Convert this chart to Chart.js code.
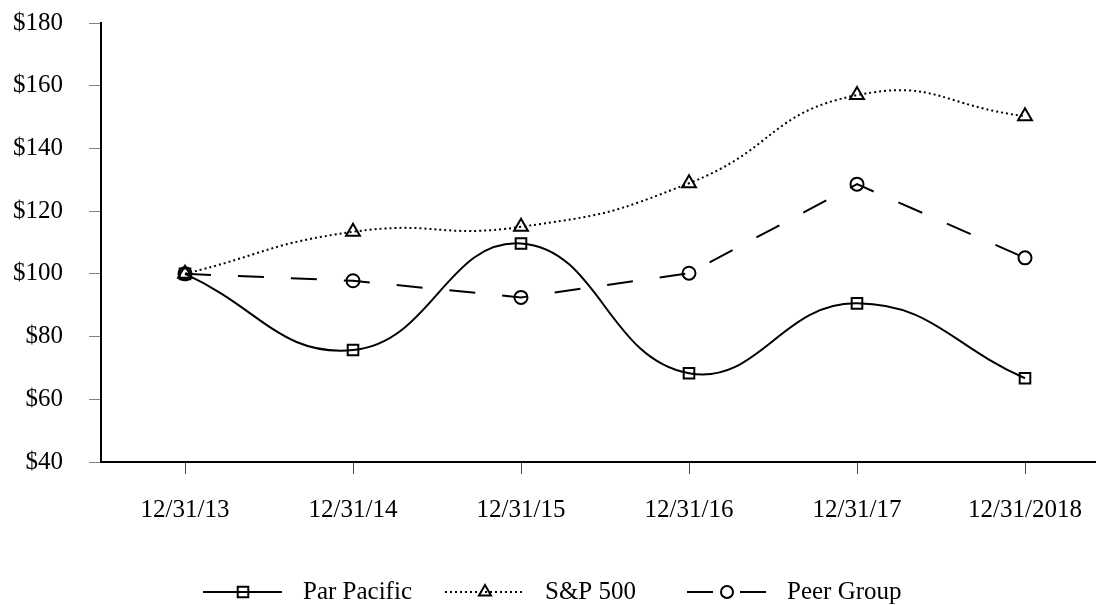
<!DOCTYPE html>
<html>
<head>
<meta charset="utf-8">
<script src="https://cdn.jsdelivr.net/npm/chart.js@4/dist/chart.umd.min.js"></script>
<style>
  html, body { margin: 0; padding: 0; background: #fff; overflow: hidden; }
  canvas { display: block; }
</style>
</head>
<body>
<canvas id="c" width="1119" height="605"></canvas>
<script>
// ---- data ----
const categories = ['12/31/13', '12/31/14', '12/31/15', '12/31/16', '12/31/17', '12/31/2018'];
const seriesNames = ['Par Pacific', 'S&P 500', 'Peer Group'];
const parPacific = [100, 75.7, 109.7, 68.3, 90.6, 66.7];
const sp500 = [100, 113.4, 115.0, 128.9, 157.0, 150.3];
const peerGroup = [100, 97.8, 92.5, 100.2, 128.6, 105.1];
const yMin = 40, yMax = 180, yStep = 20;
const yTickLabels = ['$40', '$60', '$80', '$100', '$120', '$140', '$160', '$180'];

const FONT = '"Liberation Serif", "Times New Roman", serif';

const legendPlugin = {
  id: 'excelLegend',
  afterDraw(chart) {
    const ctx = chart.ctx;
    const y = 592;
    const startX = 203, slot = 242, lineLen = 79;
    ctx.save();
    chart.data.datasets.forEach((ds, i) => {
      const x0 = startX + i * slot;
      ctx.strokeStyle = '#000';
      ctx.lineWidth = 2;
      ctx.lineCap = 'butt';
      ctx.setLineDash(ds.borderDash || []);
      ctx.beginPath();
      ctx.moveTo(x0, y);
      ctx.lineTo(x0 + lineLen, y);
      ctx.stroke();
      ctx.setLineDash([]);
      ctx.fillStyle = 'rgba(0,0,0,0)';
      const r = ds.legendRadius;
      if (Chart.helpers && Chart.helpers.drawPoint) {
        Chart.helpers.drawPoint(ctx, {pointStyle: ds.pointStyle, radius: r, borderWidth: 2, rotation: 0}, x0 + 40, y);
      }
      ctx.fillStyle = '#000';
      ctx.font = '25px ' + FONT;
      ctx.textBaseline = 'middle';
      ctx.textAlign = 'left';
      ctx.fillText(ds.label, x0 + 100, y);
    });
    ctx.restore();
  }
};

const common = {
  borderColor: '#000',
  borderWidth: 2,
  pointBorderColor: '#000',
  pointBackgroundColor: 'rgba(0,0,0,0)',
  pointBorderWidth: 2,
  fill: false
};

new Chart(document.getElementById('c'), {
  type: 'line',
  data: {
    labels: categories,
    datasets: [
      Object.assign({}, common, {
        label: seriesNames[0], data: parPacific, tension: 0.45,
        pointStyle: 'rect', pointRadius: 7.5, legendRadius: 7.5
      }),
      Object.assign({}, common, {
        label: seriesNames[1], data: sp500, tension: 0.5, borderDash: [2, 3],
        pointStyle: 'triangle', pointRadius: 8, legendRadius: 7
      }),
      Object.assign({}, common, {
        label: seriesNames[2], data: peerGroup, tension: 0, borderDash: [26, 27],
        pointStyle: 'circle', pointRadius: 6.5, legendRadius: 6
      })
    ]
  },
  options: {
    responsive: false,
    animation: false,
    devicePixelRatio: 1,
    layout: { padding: { top: 23, right: 1, left: 0, bottom: 0 } },
    plugins: { legend: { display: false }, tooltip: { enabled: false } },
    scales: {
      x: {
        offset: true,
        grid: { drawOnChartArea: false, offset: false, tickLength: 12, color: '#444', lineWidth: 1 },
        border: { display: true, color: '#000', width: 2 },
        ticks: { font: { family: FONT, size: 25 }, color: '#000', padding: 21, maxRotation: 0, autoSkip: false },
        afterFit: s => { s.height = 143; }
      },
      y: {
        min: yMin, max: yMax,
        grid: { drawOnChartArea: false, tickLength: 12, color: '#808080', lineWidth: 1 },
        border: { display: true, color: '#000', width: 2 },
        ticks: {
          stepSize: yStep,
          font: { family: FONT, size: 25 }, color: '#000', padding: 26,
          callback: (v) => yTickLabels[Math.round((v - yMin) / yStep)]
        },
        afterFit: s => { s.width = 101; s.paddingTop = 0; s.paddingBottom = 0; }
      }
    }
  },
  plugins: [legendPlugin]
});
</script>
</body>
</html>
